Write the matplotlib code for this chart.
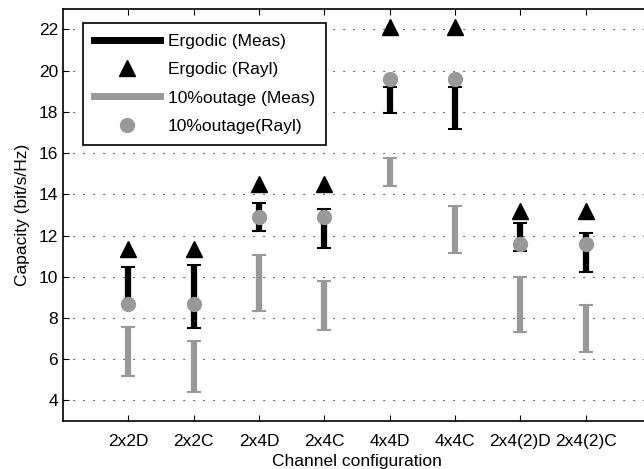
import matplotlib
matplotlib.use('Agg')
import matplotlib.pyplot as plt
import numpy as np
from matplotlib.lines import Line2D

plt.rcParams['font.family'] = ['Liberation Sans', 'DejaVu Sans']

configs = ['2x2D', '2x2C', '2x4D', '2x4C', '4x4D', '4x4C', '2x4(2)D', '2x4(2)C']
erg_meas_lo = [8.7, 7.53, 12.22, 11.39, 17.93, 17.16, 11.26, 10.24]
erg_meas_hi = [10.45, 10.58, 13.56, 13.3, 19.2, 19.2, 12.6, 12.1]
erg_rayl = [11.35, 11.35, 14.5, 14.5, 22.1, 22.1, 13.2, 13.2]
out_meas_lo = [5.18, 4.4, 8.35, 7.43, 14.4, 11.13, 7.34, 6.37]
out_meas_hi = [7.58, 6.89, 11.06, 9.79, 15.74, 13.45, 9.97, 8.61]
out_rayl = [8.7, 8.7, 12.9, 12.9, 19.6, 19.6, 11.6, 11.6]

gray = '#999999'
fs = 12.5
x = np.arange(1, len(configs) + 1)

fig = plt.figure(figsize=(6.44, 4.69), dpi=100)
ax = fig.add_axes([0.0978, 0.1023, 0.913, 0.879])

def bars(lo, hi, color, z):
    lo = np.array(lo)
    hi = np.array(hi)
    mid = (lo + hi) / 2
    ax.errorbar(x, mid, yerr=(hi - lo) / 2, fmt='none', ecolor=color,
                elinewidth=4.5, capsize=4.7, capthick=1.5, zorder=z)

bars(out_meas_lo, out_meas_hi, gray, 2)
bars(erg_meas_lo, erg_meas_hi, 'black', 3)
ax.plot(x, erg_rayl, '^', color='black', markersize=11, zorder=4)
ax.plot(x, out_rayl, 'o', color=gray, markersize=10, zorder=5)

ax.set_xlim(0, 9)
ax.set_ylim(3, 23)
ax.set_xticks(x)
ax.set_xticklabels(configs)
ax.set_yticks(np.arange(4, 23, 2))
ax.tick_params(direction='in', top=True, right=True, labelsize=fs, length=4)
ax.tick_params(axis='x', pad=9)
ax.yaxis.grid(True, linestyle=(0, (1, 8)), color='black', linewidth=0.8)
for s in ax.spines.values():
    s.set_linewidth(1.2)
ax.set_xlabel('Channel configuration', fontsize=fs, labelpad=4)
ax.set_ylabel('Capacity (bit/s/Hz)', fontsize=fs, labelpad=6)

handles = [
    Line2D([], [], color='black', lw=5),
    Line2D([], [], color='black', marker='^', ls='none', markersize=11),
    Line2D([], [], color=gray, lw=5),
    Line2D([], [], color=gray, marker='o', ls='none', markersize=10),
]
labels = ['Ergodic (Meas)', 'Ergodic (Rayl)', '10%outage (Meas)', '10%outage(Rayl)']
leg = ax.legend(handles, labels, loc='upper left', bbox_to_anchor=(0.034, 0.966),
                fontsize=fs, handlelength=3.8, handletextpad=0.45, fancybox=False,
                framealpha=1, edgecolor='black', borderaxespad=0,
                labelspacing=0.75, borderpad=0.65)
leg.get_frame().set_linewidth(1.2)

fig.savefig('out.png', dpi=100)
